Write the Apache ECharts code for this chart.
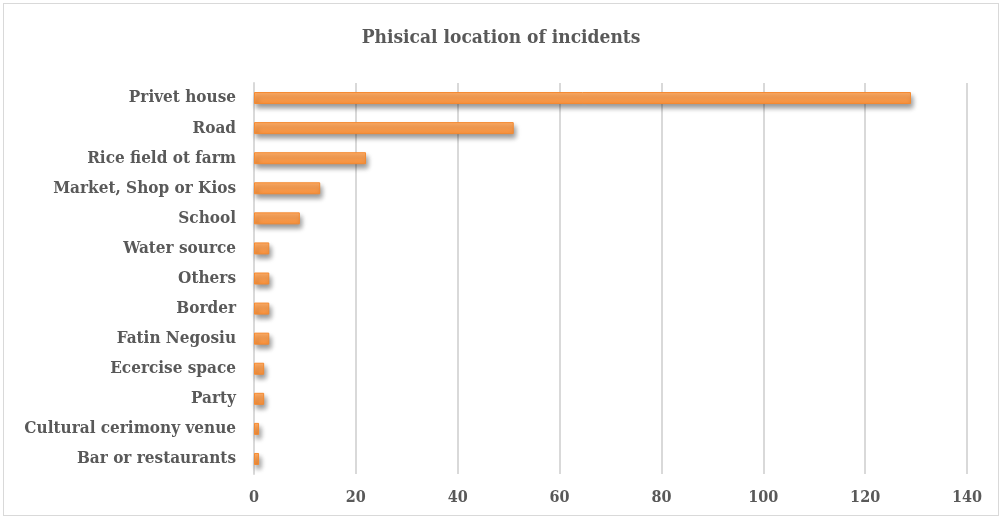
<!DOCTYPE html>
<html>
<head>
<meta charset="utf-8">
<script src="https://cdn.jsdelivr.net/npm/echarts@6/dist/echarts.min.js"></script>
<style>
  html, body { margin: 0; padding: 0; background: #fff; }
  #chart { position: absolute; left: 3px; top: 3px; width: 996px; height: 513px;
           border: 1px solid #d9d9d9; box-sizing: border-box; }
</style>
</head>
<body>
<div id="chart"></div>
<script>
// Incident locations, listed top to bottom
const categories = [
  'Privet house', 'Road', 'Rice field ot farm', 'Market, Shop or Kios', 'School',
  'Water source', 'Others', 'Border', 'Fatin Negosiu', 'Ecercise space',
  'Party', 'Cultural cerimony venue', 'Bar or restaurants'
];
const incidents = [129, 51, 22, 13, 9, 3, 3, 3, 3, 2, 2, 1, 1];
const xTicks = { min: 0, max: 140, step: 20 };

const fontFam = '"DejaVu Serif Condensed", "Liberation Serif", serif';
const textColor = '#595959';

const chart = echarts.init(document.getElementById('chart'));
chart.setOption({
  animation: false,
  title: {
    text: 'Phisical location of incidents',
    left: 'center',
    top: 20,
    textStyle: { fontFamily: fontFam, fontSize: 19, fontWeight: 'bold', color: textColor }
  },
  grid: { left: 250, right: 31, top: 79, bottom: 41 },
  xAxis: {
    type: 'value',
    min: xTicks.min, max: xTicks.max, interval: xTicks.step,
    axisLine: { show: false },
    axisTick: { show: false },
    splitLine: { lineStyle: { color: '#d9d9d9', width: 2 } },
    axisLabel: { fontFamily: fontFam, fontSize: 16, fontWeight: 'bold', color: textColor, margin: 16 }
  },
  yAxis: {
    type: 'category',
    data: categories,
    inverse: true,
    axisLine: { show: true, lineStyle: { color: '#d9d9d9', width: 2 } },
    axisTick: { show: false },
    axisLabel: { fontFamily: fontFam, fontSize: 17, fontWeight: 'bold', color: textColor, margin: 18 }
  },
  series: [{
    type: 'bar',
    data: incidents,
    barWidth: 12,
    itemStyle: {
      color: new echarts.graphic.LinearGradient(0, 0, 0, 1, [
        { offset: 0, color: '#ffae68' },
        { offset: 1, color: '#f8903a' }
      ]),
      borderColor: '#f58a30',
      borderWidth: 1,
      shadowColor: 'rgba(0,0,0,0.4)',
      shadowBlur: 5,
      shadowOffsetX: 2,
      shadowOffsetY: 4
    }
  }]
});
</script>
</body>
</html>
